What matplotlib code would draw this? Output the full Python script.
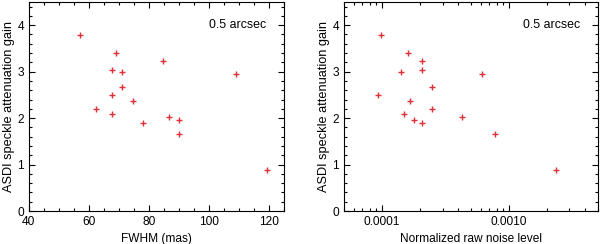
import matplotlib
matplotlib.use("Agg")
import matplotlib.pyplot as plt
from matplotlib.ticker import MultipleLocator, LogLocator, FixedLocator, NullFormatter

plt.rcParams['font.family'] = ['Liberation Sans', 'DejaVu Sans']

gain = [3.79, 3.41, 3.22, 3.03, 3.00, 2.96, 2.68, 2.49, 2.37, 2.19, 2.08, 2.03, 1.97, 1.90, 1.66, 0.89]
fwhm = [57.2, 69.2, 84.8, 67.6, 71.1, 109.2, 71.1, 67.6, 74.6, 62.4, 67.6, 86.7, 90.1, 78.1, 90.1, 119.4]

gain_r = [3.79, 3.41, 3.22, 3.03, 3.00, 2.96, 2.68, 2.49, 2.37, 2.19, 2.08, 2.03, 1.97, 1.90, 1.66, 0.89]
noise = [9.8e-5, 1.60e-4, 2.07e-4, 2.08e-4, 1.42e-4, 6.11e-4, 2.47e-4, 9.25e-5, 1.66e-4,
         2.48e-4, 1.49e-4, 4.30e-4, 1.80e-4, 2.08e-4, 7.83e-4, 2.33e-3]

red = '#e0303a'
fs = 8.6

fig = plt.figure(figsize=(6.0, 2.44), dpi=100)
ax1 = fig.add_axes([0.048, 0.135, 0.425, 0.857])
ax2 = fig.add_axes([0.573, 0.135, 0.423, 0.857])

def style(ax):
    ax.tick_params(which='both', direction='in', top=True, right=True, labelsize=fs,
                   width=0.8, color='black')
    ax.tick_params(which='major', length=4.3)
    ax.tick_params(which='minor', length=2.2)
    for s in ax.spines.values():
        s.set_linewidth(0.8)
    ax.set_ylim(0, 4.5)
    ax.yaxis.set_major_locator(MultipleLocator(1))
    ax.yaxis.set_minor_locator(MultipleLocator(0.2))
    ax.set_ylabel('ASDI speckle attenuation gain', fontsize=9.2, labelpad=2)
    ax.text(0.93, 0.89, '0.5 arcsec', transform=ax.transAxes, ha='right', va='center', fontsize=fs + 0.3)

ax1.plot(fwhm, gain, linestyle='none', marker='+', color=red, markersize=5, markeredgewidth=1.0)
style(ax1)
ax1.set_xlim(40, 125)
ax1.xaxis.set_major_locator(MultipleLocator(20))
ax1.xaxis.set_minor_locator(MultipleLocator(5))
ax1.set_xlabel('FWHM (mas)', fontsize=fs, labelpad=4)

ax2.plot(noise, gain_r, linestyle='none', marker='+', color=red, markersize=5, markeredgewidth=1.0)
ax2.set_xscale('log')
style(ax2)
ax2.set_xlim(5e-5, 5e-3)
ax2.xaxis.set_major_locator(FixedLocator([1e-4, 1e-3]))
ax2.set_xticklabels(['0.0001', '0.0010'])
ax2.xaxis.set_minor_locator(LogLocator(base=10, subs=range(2, 10)))
ax2.xaxis.set_minor_formatter(NullFormatter())
ax2.set_xlabel('Normalized raw noise level', fontsize=fs, labelpad=4)

fig.savefig('out.png', dpi=100)
